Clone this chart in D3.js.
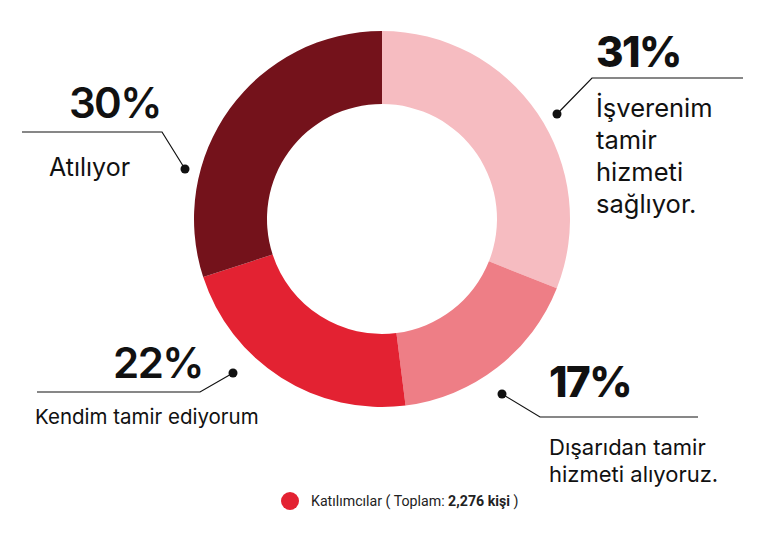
<!DOCTYPE html>
<html><head><meta charset="utf-8">
<script src="https://cdn.jsdelivr.net/npm/d3@7"></script>
<style>body{margin:0;background:#fff}svg{display:block}</style></head>
<body><svg id="c" width="768" height="539"></svg>
<script>
// ---- data ----
const categories = ["İşverenim tamir hizmeti sağlıyor.", "Dışarıdan tamir hizmeti alıyoruz.", "Kendim tamir ediyorum", "Atılıyor"];
const values = [31, 17, 22, 30];
const labelLines = [["İşverenim", "tamir", "hizmeti", "sağlıyor."], ["Dışarıdan tamir", "hizmeti alıyoruz."], ["Kendim tamir ediyorum"], ["Atılıyor"]];
const colors = ["#f6bcc1", "#ee7e86", "#e32232", "#74121b"];
const legendText = "Katılımcılar ( Toplam: ";
const legendTotal = "2,276 kişi";

// ---- layout ----
const W = 768, H = 539;
const cx = 382, cy = 219, rOuter = 188, rInner = 115;
const svg = d3.select("#c");
const g = svg.append("g").attr("transform", `translate(${cx},${cy})`);

const pie = d3.pie().sort(null).value(d => d);
const arc = d3.arc().innerRadius(rInner).outerRadius(rOuter);
g.selectAll("path.slice").data(pie(values)).join("path")
  .attr("class", "slice").attr("d", arc).attr("fill", (d, i) => colors[i]);

// label layout (positions only)
const labelLayout = [
  { dot: [557, 114], leader: [[557, 114], [592, 78], [743, 78]], pct: [596, 67, "start", 800], tx: 596, ty: 117, dy: 32, fs: 25.5 },
  { dot: [502, 394], leader: [[502, 394], [540, 417], [698, 417]], pct: [549, 397, "start", 800], tx: 549, ty: 455, dy: 27, fs: 22 },
  { dot: [233, 373], leader: [[233, 373], [200, 392], [37, 392]], pct: [203, 378, "end", 600], tx: 35, ty: 424, dy: 27, fs: 20.5 },
  { dot: [185, 169], leader: [[185, 169], [162, 132], [22, 132]], pct: [161, 118, "end", 600], tx: 49, ty: 176, dy: 27, fs: 25 }
];

const lbl = svg.append("g");
labelLayout.forEach((L, i) => {
  lbl.append("path").attr("d", d3.line()(L.leader)).attr("fill", "none").attr("stroke", "#111").attr("stroke-width", 1.2);
  lbl.append("circle").attr("cx", L.dot[0]).attr("cy", L.dot[1]).attr("r", 4.5).attr("fill", "#111");
  lbl.append("text").attr("x", L.pct[0]).attr("y", L.pct[1]).attr("text-anchor", L.pct[2])
    .attr("font-family", "Inter, sans-serif").attr("font-weight", L.pct[3]).attr("font-size", 42)
    .attr("letter-spacing", -1.5).attr("fill", "#111").text(values[i] + "%");
  labelLines[i].forEach((line, j) => {
    lbl.append("text").attr("x", L.tx).attr("y", L.ty + j * L.dy)
      .attr("font-family", "Inter, sans-serif").attr("font-size", L.fs).attr("fill", "#111").text(line);
  });
});

// legend
const leg = svg.append("g");
leg.append("circle").attr("cx", 290).attr("cy", 501).attr("r", 9).attr("fill", colors[2]);
const lt = leg.append("text").attr("x", 311).attr("y", 506).attr("font-family", "Roboto, sans-serif").attr("font-size", 14.2).attr("fill", "#222");
lt.append("tspan").text(legendText);
lt.append("tspan").attr("font-weight", 700).text(legendTotal);
lt.append("tspan").text(" )");
</script></body></html>
